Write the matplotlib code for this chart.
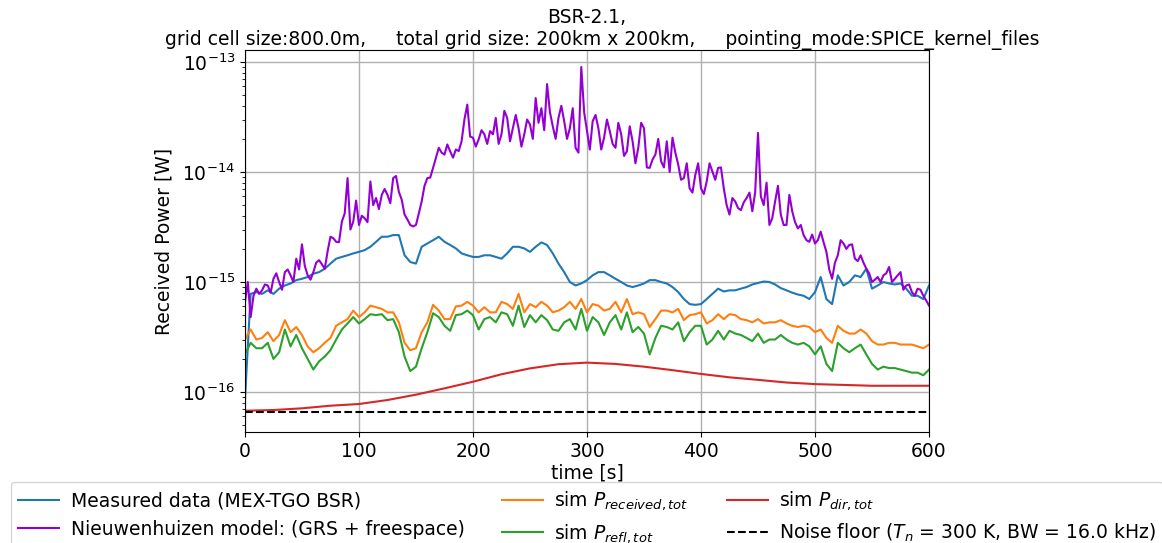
import numpy as np
import matplotlib
matplotlib.use("Agg")
import matplotlib.pyplot as plt

# time axes [s]
t = np.arange(0, 601, 5)
t_fine = np.arange(0, 600.1, 2.5)
t_dir = np.arange(0, 601, 25)

# values, in units of 1e-15 W
measured = np.array([
    0.085, 0.78, 0.81, 0.78, 0.84, 0.78, 0.87, 0.93, 0.97, 1.04, 1.07, 1.11, 1.19, 1.23, 1.32,
    1.47, 1.63, 1.69, 1.75, 1.82, 1.88, 1.95, 2.09, 2.32, 2.58, 2.58, 2.67, 2.67, 1.75, 1.52,
    1.47, 2.09, 2.24, 2.40, 2.58, 2.32, 2.17, 2.02, 1.82, 1.75, 1.69,
    1.69, 1.75, 1.75, 1.69, 1.63, 1.82, 2.09, 2.09, 2.02, 1.88, 2.09, 2.29, 2.17, 1.82, 1.47,
    1.23, 1.0, 0.93, 0.97, 1.04, 1.15, 1.23, 1.23, 1.15, 1.07, 1.0, 0.93, 0.90, 0.93, 0.97,
    1.04, 1.04, 1.0, 0.97, 0.90, 0.81, 0.70, 0.63, 0.62, 0.63,
    0.70, 0.78, 0.87, 0.82, 0.84, 0.84, 0.87, 0.90, 0.95, 0.98, 1.01, 1.0, 0.95, 0.88, 0.84,
    0.80, 0.77, 0.75, 0.70, 0.81, 1.11, 0.70, 0.63, 1.15, 0.93, 1.0, 1.15, 1.11, 1.32, 0.87,
    0.93, 1.0, 0.97, 0.95, 0.97, 0.87, 0.75, 0.75, 0.70, 0.93]) * 1e-15

# Nieuwenhuizen model, read at t = 0, 5, 10, ...
nieuwenhuizen_a = np.array([
    0.66, 0.48, 0.87, 0.84, 0.93, 1.07, 1.0, 1.23, 1.15, 1.63, 2.2, 1.15, 1.23, 1.58, 1.32,
    2.58, 2.32, 3.54, 8.8, 3.54, 3.3, 3.8, 8.2, 5.8, 6.2, 6.2, 8.8, 6.6, 4.1, 3.3,
    3.3, 5.4, 8.8, 10.9, 16.6, 14.4, 15.4, 16.0, 19.0, 41.0, 20.5,
    19.8, 22, 23.5, 31, 22, 31, 25, 25, 22, 27, 47, 38, 63, 26, 31,
    29, 25, 16.6, 90, 23.5, 29, 25, 20.5, 23.5, 16.6, 22, 15.4, 19, 16.6, 25,
    10.9, 14.4, 12.5, 19, 20.5, 11.7, 8.8, 7.1, 9.4, 7.1,
    8.2, 10.1, 10.9, 7.1, 4.1, 5.4, 4.5, 5.8, 4.4, 22.7, 5.0, 3.3, 5.4, 4.1, 3.3,
    4.4, 3.07, 2.67, 2.32, 2.24, 2.87, 1.88, 1.07, 1.75, 2.24, 2.17, 1.63, 1.75, 1.32, 1.0,
    1.11, 1.15, 1.37, 1.07, 1.23, 0.93, 0.81, 0.87, 0.75, 0.61])
# ... and at t = 2.5, 7.5, 12.5, ...
nieuwenhuizen_b = np.array([
    1.0, 0.75, 0.78, 0.95, 0.8, 1.2, 0.85, 1.3, 1.0, 1.3, 1.4, 1.05, 1.5, 1.45, 1.9,
    2.5, 2.3, 4.2, 3.0, 5.5, 4.0, 3.5, 5.0, 4.6, 7.0, 5.2, 9.2, 5.6, 3.7, 3.2,
    4.2, 7.5, 8.9, 13.5, 15.0, 17.8, 13.5, 15.5, 30, 21,
    17, 24, 18, 22, 18, 36, 19, 33, 17, 30, 20, 28, 24, 35, 20,
    40, 20, 38, 15, 35, 16, 33, 16, 30, 18, 28, 14, 26, 12, 28,
    11, 13, 20, 11, 10, 15, 8.5, 12, 6.5, 12,
    6.3, 12, 8.5, 11, 5.0, 5.8, 4.7, 5.3, 6.5, 6.5, 6.0, 8.0, 3.8, 7.5, 3.3,
    6.2, 3.5, 3.3, 2.4, 2.7, 2.4, 2.3, 1.3, 1.5, 2.4, 2.0, 2.2, 1.55, 1.5, 1.2,
    1.05, 1.0, 1.2, 1.0, 1.15, 0.85, 0.95, 0.75, 0.85, 0.68])
nieuwenhuizen = np.empty(len(t_fine))
nieuwenhuizen[0::2] = nieuwenhuizen_a
nieuwenhuizen[1::2] = nieuwenhuizen_b
nieuwenhuizen *= 1e-15

p_received = np.array([
    0.30, 0.37, 0.30, 0.31, 0.35, 0.29, 0.33, 0.45, 0.35, 0.39, 0.33, 0.26, 0.23, 0.25, 0.28,
    0.31, 0.40, 0.43, 0.46, 0.55, 0.48, 0.53, 0.61, 0.59, 0.57, 0.53, 0.53, 0.43, 0.28, 0.24,
    0.25, 0.35, 0.43, 0.62, 0.55, 0.46, 0.46, 0.60, 0.61, 0.66, 0.61,
    0.53, 0.59, 0.53, 0.53, 0.66, 0.63, 0.57, 0.78, 0.53, 0.63, 0.59, 0.66, 0.61, 0.53, 0.55,
    0.59, 0.66, 0.57, 0.70, 0.53, 0.63, 0.61, 0.55, 0.57, 0.66, 0.53, 0.70, 0.51, 0.53, 0.51,
    0.39, 0.46, 0.55, 0.55, 0.53, 0.57, 0.45, 0.50, 0.51, 0.53,
    0.42, 0.45, 0.51, 0.46, 0.51, 0.50, 0.46, 0.45, 0.43, 0.46, 0.42, 0.43, 0.43, 0.45, 0.42,
    0.40, 0.39, 0.40, 0.39, 0.35, 0.37, 0.31, 0.28, 0.40, 0.36, 0.34, 0.34, 0.37, 0.34, 0.29,
    0.27, 0.27, 0.28, 0.28, 0.27, 0.27, 0.27, 0.26, 0.25, 0.27]) * 1e-15

p_refl = np.array([
    0.22, 0.28, 0.25, 0.25, 0.28, 0.20, 0.23, 0.37, 0.26, 0.33, 0.25, 0.20, 0.16, 0.19, 0.21,
    0.24, 0.30, 0.37, 0.42, 0.48, 0.42, 0.46, 0.51, 0.50, 0.51, 0.45, 0.46, 0.35, 0.21, 0.155,
    0.17, 0.25, 0.35, 0.52, 0.48, 0.40, 0.36, 0.50, 0.51, 0.55, 0.50,
    0.37, 0.46, 0.48, 0.43, 0.53, 0.51, 0.40, 0.61, 0.39, 0.50, 0.43, 0.50, 0.45, 0.37, 0.36,
    0.43, 0.46, 0.37, 0.57, 0.36, 0.48, 0.43, 0.33, 0.43, 0.50, 0.37, 0.53, 0.35, 0.39, 0.34,
    0.22, 0.31, 0.40, 0.39, 0.37, 0.43, 0.29, 0.35, 0.40, 0.40,
    0.27, 0.30, 0.36, 0.30, 0.36, 0.34, 0.33, 0.31, 0.29, 0.34, 0.28, 0.30, 0.30, 0.33, 0.30,
    0.28, 0.27, 0.28, 0.26, 0.22, 0.26, 0.18, 0.155, 0.28, 0.25, 0.23, 0.25, 0.27, 0.22, 0.18,
    0.16, 0.17, 0.165, 0.165, 0.16, 0.155, 0.15, 0.15, 0.142, 0.16]) * 1e-15

p_dir = np.array([
    0.0676, 0.0686, 0.0711, 0.0751, 0.0778, 0.0846, 0.0946, 0.108, 0.124, 0.145, 0.164, 0.179,
    0.185, 0.180, 0.170, 0.158, 0.146, 0.136, 0.129, 0.122, 0.118, 0.116, 0.114, 0.114, 0.114]) * 1e-15

# noise floor k*T*B
T_n = 300
BW = 16.0e3
k_B = 1.380649e-23
noise_floor = k_B * T_n * BW

fs = 13.5

fig = plt.figure(figsize=(11.62, 5.43), dpi=100)
ax = fig.add_axes([0.2108, 0.2044, 0.5887, 0.7035])

ax.plot(t, measured, color="tab:blue", lw=1.5, label="Measured data (MEX-TGO BSR)")
ax.plot(t_fine, nieuwenhuizen, color="darkviolet", lw=1.5, label="Nieuwenhuizen model: (GRS + freespace)")
ax.plot(t, p_received, color="tab:orange", lw=1.5, label=r"sim $P_{received,tot}$")
ax.plot(t, p_refl, color="tab:green", lw=1.5, label=r"sim $P_{refl,tot}$")
ax.plot(t_dir, p_dir, color="tab:red", lw=1.5, label=r"sim $P_{dir,tot}$")
ax.axhline(noise_floor, color="black", ls="--", lw=1.5,
           label=r"Noise floor ($T_n$ = %d K, BW = %.1f kHz)" % (T_n, BW / 1e3))

ax.set_yscale("log")
ax.set_xlim(0, 600)
ax.set_ylim(4.33e-17, 1.285e-13)
ax.set_xticks([0, 100, 200, 300, 400, 500, 600])
ax.tick_params(labelsize=fs)
ax.grid(True, which="major", color="#b0b0b0", lw=1)
ax.set_xlabel("time [s]", fontsize=fs, labelpad=2)
ax.set_ylabel("Received Power [W]", fontsize=fs, labelpad=6)
ax.set_title("BSR-2.1,\n     grid cell size:800.0m,     total grid size: 200km x 200km,     "
             "pointing_mode:SPICE_kernel_files", fontsize=fs, pad=3)

ax.legend(loc="upper center", bbox_to_anchor=(0.5, -0.131), ncol=3, fontsize=fs,
          handlelength=2.2, handletextpad=0.6, columnspacing=2.0, borderaxespad=0)

fig.savefig("out.png", dpi=100)
